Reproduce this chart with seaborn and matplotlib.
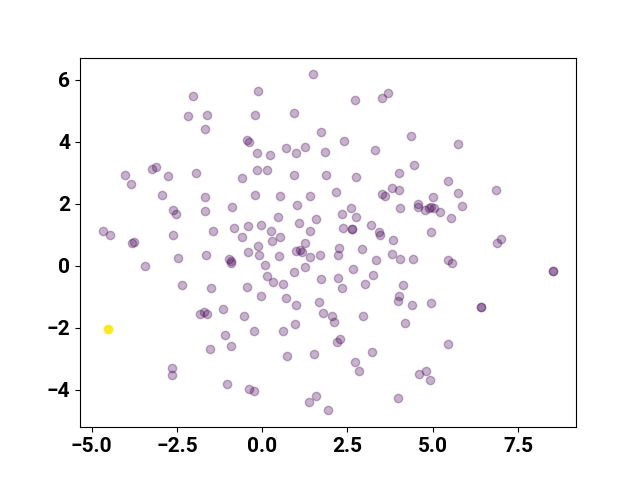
import numpy as np
import pandas as pd
import matplotlib
matplotlib.use("Agg")
import matplotlib.pyplot as plt
import seaborn as sns

x_vals = [-2.02, -2.18, -1.61, -1.68, -4.01, -3.84, -3.23, -3.10, -2.76, -1.95,
          -2.93, -2.62, -2.54, -1.68, -1.69, -0.87, -0.59, -4.68, -4.46, -2.62,
          -1.43, -0.83, -3.82, -3.75, 1.50, -0.11, 2.73, 3.50, 3.68, -0.21,
          0.93, 1.72, 2.40, 3.32, 4.37, -0.44, -0.40, -0.14, 0.22, 0.71,
          0.98, 1.25, 1.83, -0.14, 0.15, 0.93, 1.87, 2.74, 4.02, 4.45,
          -0.20, 0.51, 1.39, 2.17, 3.52, 3.60, 3.80, 4.00, 4.04, 1.02,
          0.45, 2.61, 2.34, 2.76, 1.58, 1.07, -0.41, -0.03, 0.27, -0.59,
          0.52, 0.28, 1.41, 2.37, 2.62, 2.63, 3.20, 3.43, 3.44, 3.84,
          5.73, 5.46, 5.75, 6.87, 5.00, 4.58, 4.58, 4.76, 4.89, 4.94,
          5.04, 5.20, 5.85, 5.55, 4.96, 7.00, 6.88, -2.46, -1.65, -0.97,
          -0.91, -0.91, -3.43, -2.36, -1.50, -1.82, -1.70, -1.61, -1.14, -0.53,
          -4.52, -1.09, -0.90, -1.52, -2.63, -2.63, -1.02, -0.13, -0.41, -0.10,
          0.50, 0.98, 1.11, 1.17, 1.26, 1.39, 1.71, 2.24, 2.22, 2.93,
          3.34, 3.82, 4.03, 4.41, 0.09, 0.92, 1.27, 2.67, 0.15, 0.32,
          0.61, 1.72, 2.21, 2.35, 3.25, 3.02, 4.12, -0.45, -0.03, 0.70,
          0.98, 1.67, 4.02, 3.99, 4.40, -0.24, 0.60, 0.97, 1.77, 2.06,
          2.12, 2.95, 4.19, 2.27, 2.20, 0.72, 1.53, 3.21, 2.73, 2.84,
          -0.40, -0.25, 1.57, 1.38, 1.92, 3.99, 5.45, 5.56, 8.54, 8.54,
          4.94, 6.41, 6.41, 5.44, 4.59, 4.80, 4.93]

y_vals = [5.46, 4.82, 4.87, 4.42, 2.91, 2.63, 3.11, 3.18, 2.90, 3.00,
          2.27, 1.81, 1.66, 2.21, 1.76, 1.90, 2.83, 1.12, 1.00, 0.98,
          1.12, 1.23, 0.74, 0.75, 6.17, 5.65, 5.35, 5.40, 5.57, 4.87,
          4.91, 4.31, 4.03, 3.73, 4.18, 4.04, 3.98, 3.63, 3.58, 3.81,
          3.62, 3.83, 3.66, 3.07, 3.10, 2.94, 2.92, 2.86, 2.99, 3.24,
          2.29, 2.24, 2.25, 2.36, 2.30, 2.25, 2.52, 2.45, 1.86, 1.95,
          1.58, 1.85, 1.68, 1.58, 1.49, 1.36, 1.28, 1.30, 1.13, 0.91,
          0.94, 0.79, 1.12, 1.21, 1.18, 1.17, 1.31, 1.10, 0.99, 0.84,
          3.94, 2.73, 2.34, 2.44, 2.20, 2.00, 1.89, 1.79, 1.87, 1.89,
          1.87, 1.73, 1.92, 1.53, 1.07, 0.86, 0.73, 0.24, 0.35, 0.23,
          0.16, 0.10, -0.02, -0.61, -0.71, -1.56, -1.51, -1.56, -1.41, -1.64,
          -2.05, -2.23, -2.58, -2.68, -3.30, -3.54, -3.83, 0.62, 0.43, 0.34,
          0.31, 0.47, 0.52, 0.44, 0.74, 0.27, 0.33, 0.58, 0.35, 0.53,
          0.17, 0.36, 0.21, 0.23, 0.03, -0.19, -0.03, -0.11, -0.34, -0.53,
          -0.59, -0.42, -0.40, -0.71, -0.31, -0.59, -0.63, -0.68, -0.99, -1.03,
          -1.26, -1.18, -0.99, -1.13, -1.27, -2.10, -2.11, -1.89, -1.54, -1.64,
          -1.83, -1.61, -1.85, -2.38, -2.45, -2.93, -2.86, -2.77, -3.12, -3.41,
          -3.97, -4.05, -4.19, -4.40, -4.67, -4.28, 0.18, 0.07, -0.17, -0.17,
          -1.22, -1.35, -1.35, -2.53, -3.51, -3.40, -3.70]

# cluster label: 1 marks the single outlier point
labels = [0] * len(x_vals)
labels[110] = 1

df = pd.DataFrame({"x": x_vals, "y": y_vals, "label": labels})

plt.rcParams["font.family"] = ["Roboto", "DejaVu Sans"]
plt.rcParams["font.weight"] = "bold"
plt.rcParams["font.size"] = 15

fig, ax = plt.subplots(figsize=(6.4, 4.8), dpi=100)

cmap = plt.get_cmap("viridis")
main = df[df["label"] == 0]
outl = df[df["label"] == 1]
sns.scatterplot(data=main, x="x", y="y", ax=ax, color=cmap(0.0), alpha=0.3,
                s=36, edgecolor="face", linewidth=1.0, legend=False)
sns.scatterplot(data=outl, x="x", y="y", ax=ax, color=cmap(1.0), alpha=1.0,
                s=36, edgecolor="face", linewidth=1.0, legend=False)

ax.set_xlabel("")
ax.set_ylabel("")
ax.set_xticks([-5.0, -2.5, 0.0, 2.5, 5.0, 7.5])
ax.set_yticks([-4, -2, 0, 2, 4, 6])
for lab in ax.get_xticklabels() + ax.get_yticklabels():
    lab.set_fontweight("bold")
    lab.set_fontsize(15)

fig.savefig("out.png", dpi=100)
